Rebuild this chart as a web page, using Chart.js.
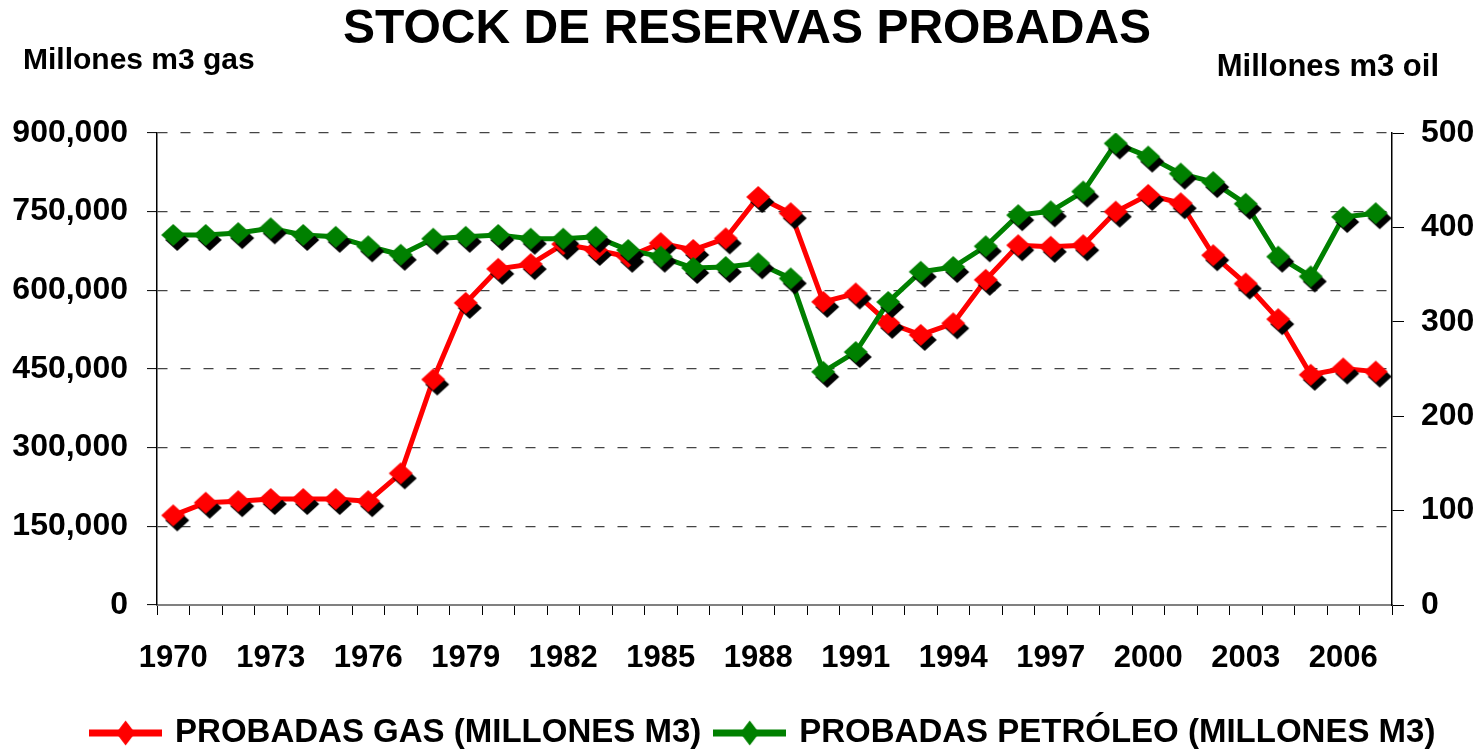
<!DOCTYPE html>
<html>
<head>
<meta charset="utf-8">
<script src="https://cdn.jsdelivr.net/npm/chart.js@4"></script>
<style>
  body { margin: 0; background: #fff; }
  #wrap { width: 1484px; height: 752px; }
</style>
</head>
<body>
<div id="wrap"><canvas id="myChart"></canvas></div>
<script>
let years = ['1970', '1971', '1972', '1973', '1974', '1975', '1976', '1977', '1978', '1979',
  '1980', '1981', '1982', '1983', '1984', '1985', '1986', '1987', '1988', '1989',
  '1990', '1991', '1992', '1993', '1994', '1995', '1996', '1997', '1998', '1999',
  '2000', '2001', '2002', '2003', '2004', '2005', '2006', '2007'];
let gas = [171000, 195000, 198000, 202000, 202000, 202000, 198000, 251000, 430000, 576000,
  641000, 650000, 688000, 677000, 664000, 690000, 677000, 699000, 778000, 747000,
  578000, 594000, 538000, 515000, 537000, 620000, 686000, 683000, 686000, 750000,
  782000, 766000, 667000, 613000, 545000, 439000, 451000, 445000];
let oil = [392, 392, 394, 399, 392, 390, 380, 371, 388, 390,
  392, 388, 388, 390, 376, 369, 357, 358, 362, 346,
  247, 268, 321, 353, 358, 380, 413, 417, 438, 489,
  475, 457, 448, 425, 369, 348, 411, 415];
let seriesNames = ['PROBADAS GAS (MILLONES M3)', 'PROBADAS PETRÓLEO (MILLONES M3)'];
let colors = ['#FF0000', '#008000'];

Chart.defaults.font.family = '"Liberation Sans", Arial, sans-serif';
Chart.defaults.color = '#000';

function diamond(g, x, y, w, h, color) {
  g.fillStyle = color;
  g.beginPath();
  g.moveTo(x, y - h);
  g.lineTo(x + w, y);
  g.lineTo(x, y + h);
  g.lineTo(x - w, y);
  g.closePath();
  g.fill();
}

// marker with the black drop shadow
function makeMarker(color) {
  let c = document.createElement('canvas');
  c.width = 40; c.height = 40;
  let g = c.getContext('2d');
  diamond(g, 24, 25, 12, 11, '#000');
  diamond(g, 20, 20, 12, 11, color);
  return c;
}

// legend sample: line with diamond
function makeLegendMark(color) {
  let c = document.createElement('canvas');
  c.width = 73; c.height = 30;
  let g = c.getContext('2d');
  g.fillStyle = color;
  g.fillRect(0, 11.5, 73, 7);
  diamond(g, 36.5, 15, 9.5, 12.5, color);
  return c;
}

let markers = colors.map(makeMarker);
let legendMarks = colors.map(makeLegendMark);

let axisTitles = {
  id: 'axisTitles',
  afterLayout(chart) {
    // nudge the legend a little to the right, like the original
    chart.legend.left += 17;
    chart.legend.right += 17;
  },
  afterDraw(chart) {
    let c = chart.ctx;
    c.save();
    c.fillStyle = '#000';
    c.textBaseline = 'middle';
    c.font = 'bold 30px "Liberation Sans", Arial, sans-serif';
    c.textAlign = 'left';
    c.fillText('Millones m3 gas', 23, 61);
    c.font = 'bold 31px "Liberation Sans", Arial, sans-serif';
    c.textAlign = 'right';
    c.fillText('Millones m3 oil', 1439, 67);
    c.restore();
  }
};

let ctx = document.getElementById('myChart').getContext('2d');

let myChart = new Chart(ctx, {
  type: 'line',
  data: {
    labels: years,
    datasets: [{
      label: seriesNames[0],
      data: gas,
      yAxisID: 'y',
      borderColor: colors[0],
      backgroundColor: colors[0],
      borderWidth: 5,
      pointStyle: markers[0],
      pointRadius: 12,
      order: 1
    }, {
      label: seriesNames[1],
      data: oil,
      yAxisID: 'y2',
      borderColor: colors[1],
      backgroundColor: colors[1],
      borderWidth: 5,
      pointStyle: markers[1],
      pointRadius: 12,
      order: 0
    }]
  },
  options: {
    responsive: true,
    maintainAspectRatio: false,
    animation: false,
    layout: { padding: { left: 10, right: 0, top: 0, bottom: -7.5 } },
    plugins: {
      title: {
        display: true,
        text: 'STOCK DE RESERVAS PROBADAS',
        color: '#000',
        font: { size: 48, weight: 'bold', lineHeight: 1.2 },
        padding: { top: 1, bottom: 74.4 }
      },
      legend: {
        position: 'bottom',
        labels: {
          usePointStyle: true,
          pointStyleWidth: 66,
          padding: 15.5,
          color: '#000',
          font: { size: 33, weight: 'bold' },
          sort: (a, b) => a.datasetIndex - b.datasetIndex,
          generateLabels: (chart) => {
            let items = Chart.defaults.plugins.legend.labels.generateLabels(chart);
            items.forEach((it) => { it.pointStyle = legendMarks[it.datasetIndex]; });
            return items;
          }
        }
      },
      tooltip: { enabled: false }
    },
    scales: {
      x: {
        offset: true,
        border: { color: '#808080', width: 2 },
        grid: { drawOnChartArea: false, offset: true, tickLength: 10, color: '#000' },
        ticks: {
          autoSkip: false,
          maxRotation: 0,
          padding: 0,
          color: '#000',
          font: { size: 31, weight: 'bold', lineHeight: 86 / 31 },
          callback: function (value, index) {
            return index % 3 === 0 ? this.getLabelForValue(value) : '';
          }
        }
      },
      y: {
        position: 'left',
        min: 0,
        max: 900000,
        afterFit: (scale) => { scale.width = 147; },
        border: { color: '#000', width: 1.5, dash: [10, 13] },
        grid: {
          color: '#444',
          lineWidth: 1.2,
          tickLength: 10,
          tickColor: '#000',
          tickBorderDash: [],
          tickWidth: 1
        },
        ticks: {
          stepSize: 150000,
          padding: 19,
          color: '#000',
          font: { size: 32, weight: 'bold' },
          callback: (v) => v.toLocaleString('en-US')
        }
      },
      y2: {
        position: 'right',
        min: 0,
        max: 500,
        afterFit: (scale) => { scale.width = 92; },
        border: { color: '#000', width: 1.5 },
        grid: { drawOnChartArea: false, tickLength: 12, color: '#000' },
        ticks: {
          stepSize: 100,
          padding: 17,
          color: '#000',
          font: { size: 32, weight: 'bold' }
        }
      }
    }
  },
  plugins: [axisTitles]
});
</script>
</body>
</html>
